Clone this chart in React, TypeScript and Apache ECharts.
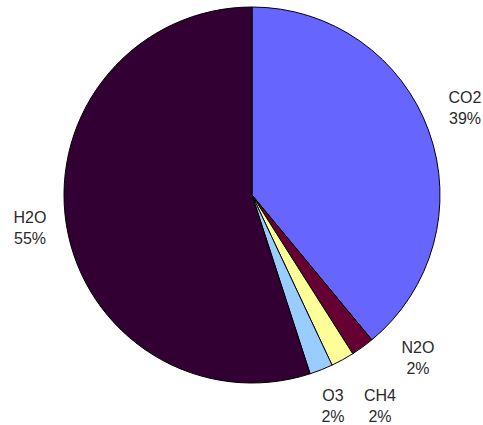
import React, { useEffect, useRef } from "react";
import * as echarts from "echarts";

const gases = ["CO2", "N2O", "CH4", "O3", "H2O"];
const shares = [39, 2, 2, 2, 55];
const colors = ["#6666FF", "#660033", "#FFFF99", "#99CCFF", "#330033"];

// label block centres (layout only)
const labelSpots: [number, number][] = [
  [465, 108],
  [418, 358],
  [380, 406],
  [333, 406],
  [30, 228],
];

export default function App() {
  const ref = useRef<HTMLDivElement>(null);
  useEffect(() => {
    if (!ref.current) return;
    const chart = echarts.init(ref.current, null, { renderer: "svg" });
    chart.setOption({
      animation: false,
      backgroundColor: "#ffffff",
      series: [
        {
          type: "pie",
          center: [252, 195],
          radius: 188,
          startAngle: 90,
          clockwise: true,
          avoidLabelOverlap: false,
          data: gases.map((g, i) => ({
            name: g,
            value: shares[i],
            itemStyle: { color: colors[i] },
          })),
          itemStyle: { borderColor: "#000", borderWidth: 1 },
          label: {
            show: true,
            position: "outside",
            formatter: "{b}\n{d}%",
            fontFamily: "Liberation Sans, Arial, sans-serif",
            fontSize: 16,
            lineHeight: 21,
            color: "#2a2a2a",
            align: "center",
          },
          labelLine: { show: false },
          labelLayout: (p: any) => ({
            x: labelSpots[p.dataIndex][0],
            y: labelSpots[p.dataIndex][1],
            align: "center",
            verticalAlign: "middle",
          }),
          emphasis: { disabled: true },
        },
      ],
    });
    return () => chart.dispose();
  }, []);
  return (
    <div
      ref={ref}
      style={{ position: "fixed", left: 0, top: 0, width: 483, height: 425 }}
    />
  );
}
